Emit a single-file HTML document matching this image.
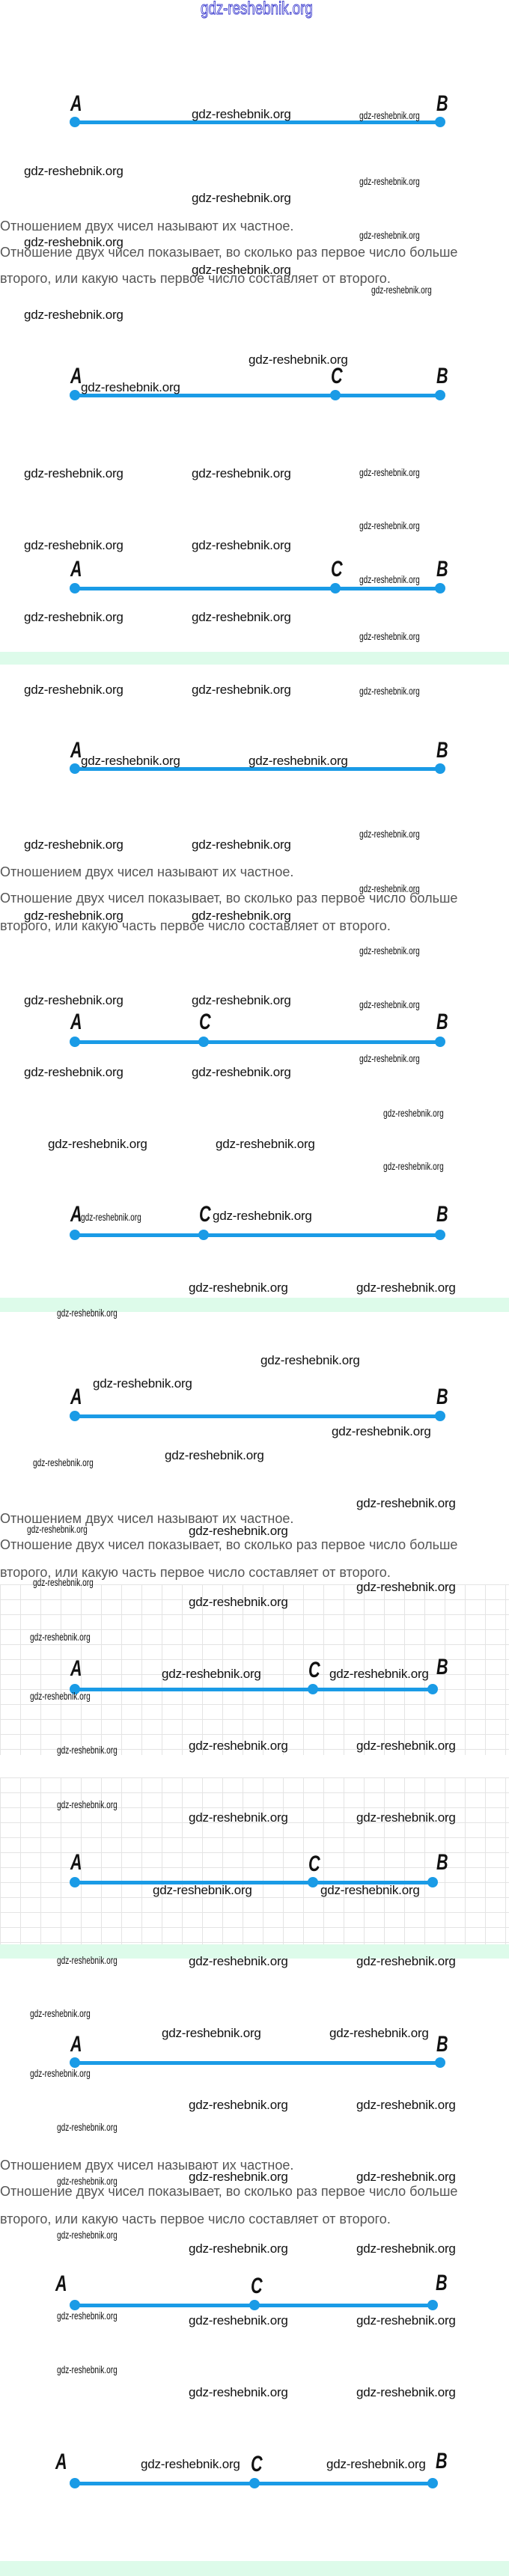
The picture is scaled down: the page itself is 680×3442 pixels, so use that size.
<!DOCTYPE html>
<html><head><meta charset="utf-8">
<style>
html,body{margin:0;padding:0;background:#fff;}
body{width:680px;height:3442px;position:relative;overflow:hidden;font-family:"Liberation Sans",sans-serif;}
.a{position:absolute;white-space:nowrap;}
.w{position:absolute;white-space:nowrap;font-size:17px;line-height:17px;color:#111;letter-spacing:-0.2px;}
.s{position:absolute;white-space:nowrap;font-size:14px;line-height:14px;color:#111;transform:scaleX(0.72);transform-origin:0 0;}
.t{position:absolute;white-space:nowrap;font-size:18px;line-height:20px;color:#555;left:0;}
.L{position:absolute;font-weight:bold;font-style:italic;font-size:30px;line-height:30px;color:#111;transform:scaleX(0.72);transform-origin:0 0;}
.ln{position:absolute;height:5px;background:#1a9be6;border-radius:3px;}
.d{position:absolute;width:14px;height:14px;border-radius:50%;background:#1a9be6;}
.g{position:absolute;left:0;width:680px;background:#ddfbea;}
.grid{position:absolute;left:0;width:680px;background-image:linear-gradient(#e4e4e4 1px,transparent 1px),linear-gradient(90deg,#e4e4e4 1px,transparent 1px);background-size:27px 20px;}
</style></head><body>

<div class="a" style="left:268px;top:0;font-size:24px;line-height:24px;color:transparent;-webkit-text-stroke:1px #3333cc;transform:scaleX(0.78);transform-origin:0 0;">gdz-reshebnik.org</div>

<!-- grids -->
<div class="grid" style="top:2117px;height:228px;"></div>
<div class="grid" style="top:2375px;height:223px;"></div>

<!-- green bands -->
<div class="g" style="top:871px;height:17px;"></div>
<div class="g" style="top:1734px;height:19px;"></div>
<div class="g" style="top:2598px;height:19px;"></div>
<div class="g" style="top:3422px;height:20px;"></div>

<!-- Line 1 -->
<div class="ln" style="left:100px;top:161px;width:488px;"></div>
<div class="d" style="left:93px;top:156px;"></div><div class="d" style="left:581px;top:156px;"></div>
<div class="L" style="left:94px;top:124px;">A</div><div class="L" style="left:583px;top:124px;">B</div>
<div class="w" style="left:256px;top:144px;">gdz-reshebnik.org</div>
<div class="s" style="left:480px;top:147px;">gdz-reshebnik.org</div>
<div class="w" style="left:32px;top:220px;">gdz-reshebnik.org</div>
<div class="s" style="left:480px;top:235px;">gdz-reshebnik.org</div>
<div class="w" style="left:256px;top:256px;">gdz-reshebnik.org</div>
<div class="t" style="top:292px;">Отношением двух чисел называют их частное.</div>
<div class="s" style="left:480px;top:307px;">gdz-reshebnik.org</div>
<div class="w" style="left:32px;top:315px;">gdz-reshebnik.org</div>
<div class="t" style="top:327px;">Отношение двух чисел показывает, во сколько раз первое число больше</div>
<div class="w" style="left:256px;top:352px;">gdz-reshebnik.org</div>
<div class="t" style="top:362px;">второго, или какую часть первое число составляет от второго.</div>
<div class="s" style="left:496px;top:380px;">gdz-reshebnik.org</div>
<div class="w" style="left:32px;top:412px;">gdz-reshebnik.org</div>

<!-- Line 2 -->
<div class="w" style="left:332px;top:472px;">gdz-reshebnik.org</div>
<div class="ln" style="left:100px;top:526px;width:488px;"></div>
<div class="d" style="left:93px;top:521px;"></div><div class="d" style="left:441px;top:521px;"></div><div class="d" style="left:581px;top:521px;"></div>
<div class="L" style="left:94px;top:488px;">A</div><div class="L" style="left:442px;top:488px;">C</div><div class="L" style="left:583px;top:488px;">B</div>
<div class="w" style="left:108px;top:509px;">gdz-reshebnik.org</div>
<div class="w" style="left:32px;top:624px;">gdz-reshebnik.org</div>
<div class="w" style="left:256px;top:624px;">gdz-reshebnik.org</div>
<div class="s" style="left:480px;top:624px;">gdz-reshebnik.org</div>
<div class="s" style="left:480px;top:695px;">gdz-reshebnik.org</div>
<div class="w" style="left:32px;top:720px;">gdz-reshebnik.org</div>
<div class="w" style="left:256px;top:720px;">gdz-reshebnik.org</div>

<!-- Line 3 -->
<div class="ln" style="left:100px;top:784px;width:488px;"></div>
<div class="d" style="left:93px;top:779px;"></div><div class="d" style="left:441px;top:779px;"></div><div class="d" style="left:581px;top:779px;"></div>
<div class="L" style="left:94px;top:746px;">A</div><div class="L" style="left:442px;top:746px;">C</div><div class="L" style="left:583px;top:746px;">B</div>
<div class="s" style="left:480px;top:767px;">gdz-reshebnik.org</div>
<div class="w" style="left:32px;top:816px;">gdz-reshebnik.org</div>
<div class="w" style="left:256px;top:816px;">gdz-reshebnik.org</div>
<div class="s" style="left:480px;top:843px;">gdz-reshebnik.org</div>

<!-- Section 3 -->
<div class="w" style="left:32px;top:913px;">gdz-reshebnik.org</div>
<div class="w" style="left:256px;top:913px;">gdz-reshebnik.org</div>
<div class="s" style="left:480px;top:916px;">gdz-reshebnik.org</div>
<div class="ln" style="left:100px;top:1025px;width:488px;"></div>
<div class="d" style="left:93px;top:1020px;"></div><div class="d" style="left:581px;top:1020px;"></div>
<div class="L" style="left:94px;top:988px;">A</div><div class="L" style="left:583px;top:988px;">B</div>
<div class="w" style="left:108px;top:1008px;">gdz-reshebnik.org</div>
<div class="w" style="left:332px;top:1008px;">gdz-reshebnik.org</div>
<div class="s" style="left:480px;top:1107px;">gdz-reshebnik.org</div>
<div class="w" style="left:32px;top:1120px;">gdz-reshebnik.org</div>
<div class="w" style="left:256px;top:1120px;">gdz-reshebnik.org</div>
<div class="t" style="top:1155px;">Отношением двух чисел называют их частное.</div>
<div class="s" style="left:480px;top:1180px;">gdz-reshebnik.org</div>
<div class="t" style="top:1190px;">Отношение двух чисел показывает, во сколько раз первое число больше</div>
<div class="w" style="left:32px;top:1215px;">gdz-reshebnik.org</div>
<div class="w" style="left:256px;top:1215px;">gdz-reshebnik.org</div>
<div class="t" style="top:1227px;">второго, или какую часть первое число составляет от второго.</div>
<div class="s" style="left:480px;top:1263px;">gdz-reshebnik.org</div>
<div class="w" style="left:32px;top:1328px;">gdz-reshebnik.org</div>
<div class="w" style="left:256px;top:1328px;">gdz-reshebnik.org</div>
<div class="s" style="left:480px;top:1335px;">gdz-reshebnik.org</div>

<!-- Line 5 -->
<div class="ln" style="left:100px;top:1390px;width:488px;"></div>
<div class="d" style="left:93px;top:1385px;"></div><div class="d" style="left:265px;top:1385px;"></div><div class="d" style="left:581px;top:1385px;"></div>
<div class="L" style="left:94px;top:1351px;">A</div><div class="L" style="left:266px;top:1351px;">C</div><div class="L" style="left:583px;top:1351px;">B</div>
<div class="s" style="left:480px;top:1407px;">gdz-reshebnik.org</div>
<div class="w" style="left:32px;top:1424px;">gdz-reshebnik.org</div>
<div class="w" style="left:256px;top:1424px;">gdz-reshebnik.org</div>
<div class="s" style="left:512px;top:1480px;">gdz-reshebnik.org</div>
<div class="w" style="left:64px;top:1520px;">gdz-reshebnik.org</div>
<div class="w" style="left:288px;top:1520px;">gdz-reshebnik.org</div>
<div class="s" style="left:512px;top:1551px;">gdz-reshebnik.org</div>

<!-- Line 6 -->
<div class="ln" style="left:100px;top:1648px;width:488px;"></div>
<div class="d" style="left:93px;top:1643px;"></div><div class="d" style="left:265px;top:1643px;"></div><div class="d" style="left:581px;top:1643px;"></div>
<div class="L" style="left:94px;top:1608px;">A</div><div class="L" style="left:266px;top:1608px;">C</div><div class="L" style="left:583px;top:1608px;">B</div>
<div class="s" style="left:108px;top:1619px;">gdz-reshebnik.org</div>
<div class="w" style="left:284px;top:1616px;">gdz-reshebnik.org</div>
<div class="w" style="left:252px;top:1712px;">gdz-reshebnik.org</div>
<div class="w" style="left:476px;top:1712px;">gdz-reshebnik.org</div>
<div class="s" style="left:76px;top:1747px;">gdz-reshebnik.org</div>

<!-- Line 7 -->
<div class="w" style="left:348px;top:1809px;">gdz-reshebnik.org</div>
<div class="w" style="left:124px;top:1840px;">gdz-reshebnik.org</div>
<div class="ln" style="left:100px;top:1890px;width:488px;"></div>
<div class="d" style="left:93px;top:1885px;"></div><div class="d" style="left:581px;top:1885px;"></div>
<div class="L" style="left:94px;top:1852px;">A</div><div class="L" style="left:583px;top:1852px;">B</div>
<div class="w" style="left:443px;top:1904px;">gdz-reshebnik.org</div>
<div class="w" style="left:220px;top:1936px;">gdz-reshebnik.org</div>
<div class="s" style="left:44px;top:1947px;">gdz-reshebnik.org</div>
<div class="w" style="left:476px;top:2000px;">gdz-reshebnik.org</div>
<div class="t" style="top:2019px;">Отношением двух чисел называют их частное.</div>
<div class="s" style="left:36px;top:2036px;">gdz-reshebnik.org</div>
<div class="w" style="left:252px;top:2037px;">gdz-reshebnik.org</div>
<div class="t" style="top:2054px;">Отношение двух чисел показывает, во сколько раз первое число больше</div>
<div class="t" style="top:2091px;">второго, или какую часть первое число составляет от второго.</div>
<div class="s" style="left:44px;top:2107px;">gdz-reshebnik.org</div>
<div class="w" style="left:476px;top:2112px;">gdz-reshebnik.org</div>
<div class="w" style="left:252px;top:2132px;">gdz-reshebnik.org</div>
<div class="s" style="left:40px;top:2180px;">gdz-reshebnik.org</div>

<!-- Line 8 -->
<div class="ln" style="left:100px;top:2255px;width:478px;"></div>
<div class="d" style="left:93px;top:2250px;"></div><div class="d" style="left:411px;top:2250px;"></div><div class="d" style="left:571px;top:2250px;"></div>
<div class="L" style="left:94px;top:2215px;">A</div><div class="L" style="left:412px;top:2217px;">C</div><div class="L" style="left:583px;top:2213px;">B</div>
<div class="w" style="left:216px;top:2228px;">gdz-reshebnik.org</div>
<div class="w" style="left:440px;top:2228px;">gdz-reshebnik.org</div>
<div class="s" style="left:40px;top:2259px;">gdz-reshebnik.org</div>
<div class="s" style="left:76px;top:2331px;">gdz-reshebnik.org</div>
<div class="w" style="left:252px;top:2324px;">gdz-reshebnik.org</div>
<div class="w" style="left:476px;top:2324px;">gdz-reshebnik.org</div>
<div class="s" style="left:76px;top:2404px;">gdz-reshebnik.org</div>
<div class="w" style="left:252px;top:2420px;">gdz-reshebnik.org</div>
<div class="w" style="left:476px;top:2420px;">gdz-reshebnik.org</div>

<!-- Line 9 -->
<div class="ln" style="left:100px;top:2513px;width:478px;"></div>
<div class="d" style="left:93px;top:2508px;"></div><div class="d" style="left:411px;top:2508px;"></div><div class="d" style="left:571px;top:2508px;"></div>
<div class="L" style="left:94px;top:2474px;">A</div><div class="L" style="left:412px;top:2476px;">C</div><div class="L" style="left:583px;top:2474px;">B</div>
<div class="w" style="left:204px;top:2517px;">gdz-reshebnik.org</div>
<div class="w" style="left:428px;top:2517px;">gdz-reshebnik.org</div>
<div class="s" style="left:76px;top:2612px;">gdz-reshebnik.org</div>
<div class="w" style="left:252px;top:2612px;">gdz-reshebnik.org</div>
<div class="w" style="left:476px;top:2612px;">gdz-reshebnik.org</div>
<div class="s" style="left:40px;top:2683px;">gdz-reshebnik.org</div>

<!-- Line 10 -->
<div class="w" style="left:216px;top:2708px;">gdz-reshebnik.org</div>
<div class="w" style="left:440px;top:2708px;">gdz-reshebnik.org</div>
<div class="ln" style="left:100px;top:2754px;width:488px;"></div>
<div class="d" style="left:93px;top:2749px;"></div><div class="d" style="left:581px;top:2749px;"></div>
<div class="L" style="left:94px;top:2717px;">A</div><div class="L" style="left:583px;top:2717px;">B</div>
<div class="s" style="left:40px;top:2763px;">gdz-reshebnik.org</div>
<div class="w" style="left:252px;top:2804px;">gdz-reshebnik.org</div>
<div class="w" style="left:476px;top:2804px;">gdz-reshebnik.org</div>
<div class="s" style="left:76px;top:2835px;">gdz-reshebnik.org</div>
<div class="t" style="top:2883px;">Отношением двух чисел называют их частное.</div>
<div class="w" style="left:252px;top:2900px;">gdz-reshebnik.org</div>
<div class="w" style="left:476px;top:2900px;">gdz-reshebnik.org</div>
<div class="s" style="left:76px;top:2907px;">gdz-reshebnik.org</div>
<div class="t" style="top:2918px;">Отношение двух чисел показывает, во сколько раз первое число больше</div>
<div class="t" style="top:2955px;">второго, или какую часть первое число составляет от второго.</div>
<div class="s" style="left:76px;top:2979px;">gdz-reshebnik.org</div>
<div class="w" style="left:252px;top:2996px;">gdz-reshebnik.org</div>
<div class="w" style="left:476px;top:2996px;">gdz-reshebnik.org</div>

<!-- Line 11 -->
<div class="ln" style="left:100px;top:3078px;width:478px;"></div>
<div class="d" style="left:93px;top:3073px;"></div><div class="d" style="left:333px;top:3073px;"></div><div class="d" style="left:571px;top:3073px;"></div>
<div class="L" style="left:74px;top:3037px;">A</div><div class="L" style="left:335px;top:3040px;">C</div><div class="L" style="left:582px;top:3036px;">B</div>
<div class="s" style="left:76px;top:3087px;">gdz-reshebnik.org</div>
<div class="w" style="left:252px;top:3092px;">gdz-reshebnik.org</div>
<div class="w" style="left:476px;top:3092px;">gdz-reshebnik.org</div>
<div class="s" style="left:76px;top:3159px;">gdz-reshebnik.org</div>
<div class="w" style="left:252px;top:3188px;">gdz-reshebnik.org</div>
<div class="w" style="left:476px;top:3188px;">gdz-reshebnik.org</div>

<!-- Line 12 -->
<div class="ln" style="left:100px;top:3316px;width:478px;"></div>
<div class="d" style="left:93px;top:3311px;"></div><div class="d" style="left:333px;top:3311px;"></div><div class="d" style="left:571px;top:3311px;"></div>
<div class="L" style="left:74px;top:3275px;">A</div><div class="L" style="left:335px;top:3278px;">C</div><div class="L" style="left:582px;top:3274px;">B</div>
<div class="w" style="left:188px;top:3284px;">gdz-reshebnik.org</div>
<div class="w" style="left:436px;top:3284px;">gdz-reshebnik.org</div>

</body></html>
